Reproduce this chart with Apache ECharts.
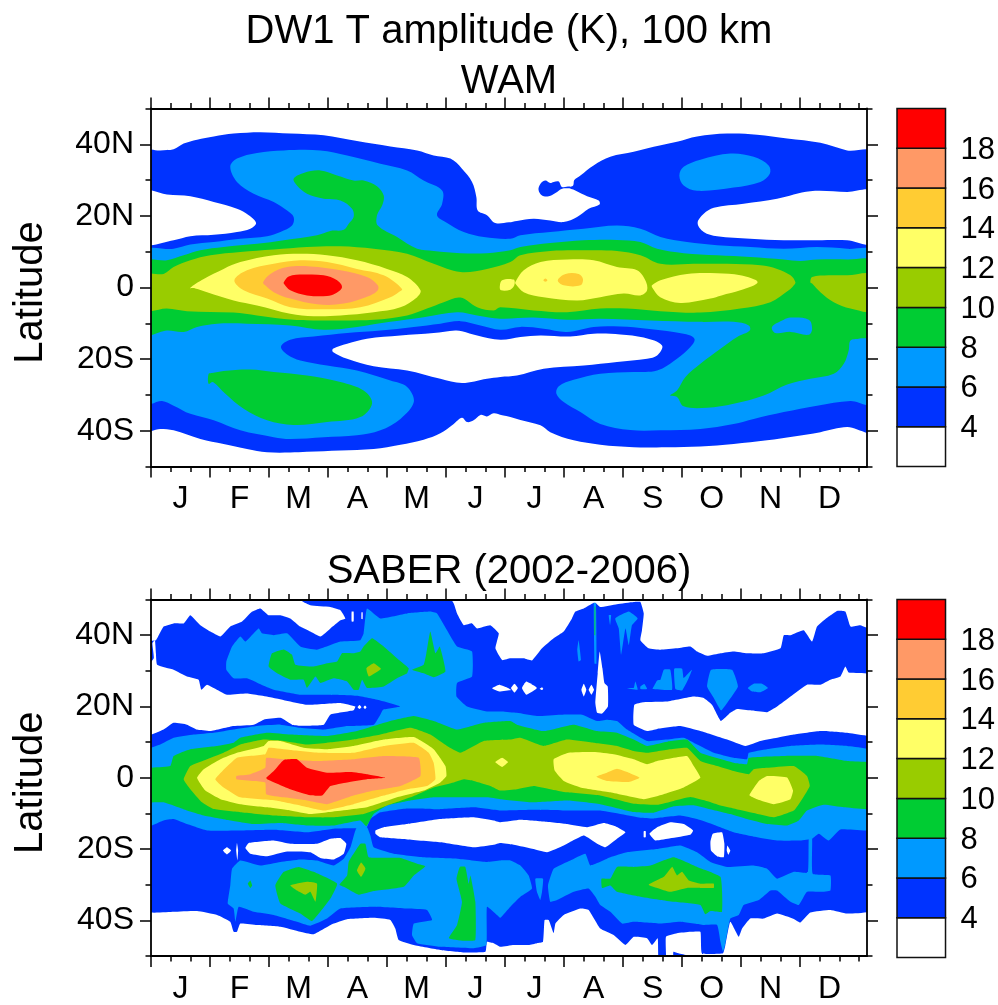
<!DOCTYPE html>
<html><head><meta charset="utf-8">
<style>html,body{margin:0;background:#fff}#c{width:998px;height:1005px}</style>
<script src="https://cdn.jsdelivr.net/npm/echarts@6/dist/echarts.min.js"></script></head>
<body><div id="c"></div>
<script>
const monthLabels=['J','F','M','A','M','J','J','A','S','O','N','D'];
const monthCentres=[15,45,75,105,135,165,195,225,255,285,315,345];
const dayMajor=[0,30,60,90,120,150,180,210,240,270,300,330];
const dayMinor=[10,20,40,50,70,80,100,110,130,140,160,170,190,200,220,230,250,260,280,290,310,320,340,350,360];
const latMajor=[-40,-20,0,20,40];
const latLabels=['40S','20S','0','20N','40N'];
const latMinor=[-50,-30,-10,10,30,50];
const bandLow=[2,4,6,8,10,12,14,16,18];
const bandColor=['#ffffff','#0033ff','#0099ff','#00cc33','#99cc00','#ffff66','#ffcc33','#ff9966','#ff0000'];
const barLabels=[4,6,8,10,12,14,16,18];

// WAM contours: [day of year, latitude]
const wamBlue=[[[-3,37.9],[4.7,38.3],[11.5,38.6],[16.6,40.2],[23.4,41.3],[31.9,42.2],[42,43],[55.6,43.4],[70.8,43],[87.8,42.5],[104.7,40.9],[121.7,39.4],[135.3,38.3],[143.7,36.9],[152.2,36],[158.1,33.2],[163.2,29.5],[165.4,25.3],[166.1,21.5],[170.8,20.2],[175,18],[182,18.2],[186,18.6],[194.5,19.2],[203,18.7],[209.8,18.3],[216.6,19.7],[222.5,22],[228,23.2],[227.6,24.3],[221.7,25.5],[215.7,27.1],[212.3,27.9],[214.6,28.5],[215.2,30],[218.3,31.3],[225,34.1],[233.5,36.5],[245.4,37.9],[255.6,39.3],[267.4,40.7],[277.6,42.2],[292.9,43],[308.1,42.7],[323.4,41.6],[340.3,40.4],[353.9,38.3],[367,37.4],[367,-39.9],[353.9,-39],[340.3,-40.4],[326.8,-41.6],[313.2,-42.7],[296.2,-43.7],[279.3,-44.4],[262.3,-44.6],[245.4,-44.6],[228.4,-43.9],[214.9,-42.7],[203,-40.4],[198,-38.5],[187.8,-37],[182.7,-36.2],[178.5,-35.7],[174.2,-35.1],[170.8,-36],[167.5,-35.6],[164,-37.1],[160.7,-37.6],[158.1,-36.4],[153.9,-38.1],[147.1,-40.7],[138.6,-42.5],[126.8,-43.9],[113.2,-45.1],[96.3,-45.5],[79.3,-45.9],[70.8,-46.1],[59,-46],[48.8,-45.1],[36.9,-43.7],[25.1,-42.3],[11.5,-39.9],[4.7,-39.5],[-3,-39.8]],
[[208.9,28.1],[207.3,29.6],[204.7,29.5],[203,29.2],[200.5,29.9],[198,29],[197,27.3],[198.8,25.7],[202.2,25.5],[205.6,26.4],[209,27.6],[213,27.8],[213,28.2]]];
const wamWhite=[[[-3,26.7],[8.1,26],[20,25.5],[31.9,23.9],[43.7,22],[49.7,20.2],[53.4,18],[50.5,16.4],[43.7,15.5],[31.9,14.7],[20,14.3],[11.5,13.2],[-3,12.5]],
[[367,26.7],[353.9,26.7],[335.2,26.9],[318.3,24.8],[301.3,23.4],[286.1,22.3],[281,20.6],[277.9,18],[281,15.5],[287.8,14.3],[304.7,13.6],[321.7,13.2],[338.6,13.2],[353.9,13.2],[367,12.4]],
[[92.5,-17.1],[99.7,-15.7],[109.8,-14.3],[126.8,-13.4],[143.7,-12.7],[154.7,-12],[158.1,-12.2],[165.8,-13.4],[177.6,-14.6],[187.8,-13.8],[198,-13.4],[213.2,-13.7],[225,-12.9],[238.6,-13.1],[250.5,-14],[259.8,-16.2],[257.3,-19],[252.2,-19.9],[236.9,-20.8],[220,-21.8],[199.6,-22.7],[186,-24.6],[177.6,-25],[170.8,-25.5],[158.1,-26.7],[147.1,-25.5],[130.2,-23.2],[113.2,-22],[99.7,-19.9],[92.5,-18]]];
const wamLight=[[[-3,9.9],[11.5,10.8],[20,12],[31.9,12.7],[45.4,13.6],[59,14.3],[65.8,15.5],[71.7,17.3],[72.5,19.7],[69.2,21.5],[62.4,23.9],[52.2,26.2],[43.7,29.5],[40.3,33.7],[43.7,36],[53.9,37.6],[67.5,38.3],[86.1,38.3],[99.7,36.9],[116.6,34.6],[130.2,32.7],[138.6,29.9],[148,27.1],[148,23.4],[145.4,20.2],[149.7,18.3],[159,15.5],[169.2,14.1],[182.7,13.6],[187.8,14.6],[203,15.5],[220,16.4],[236.9,17.3],[248.8,16.4],[259,14.1],[272.5,12.7],[287.8,11.8],[304.7,11.3],[321.7,10.8],[338.6,11.3],[353.9,10.8],[367,9.9],[367,-32.3],[355.6,-31.7],[338.6,-33],[321.7,-34.8],[306.4,-36.7],[296.2,-38.1],[279.3,-39.5],[258.9,-39.9],[243.7,-39.8],[228.4,-38.1],[218.3,-34.8],[209.8,-32],[206.1,-29.7],[207.3,-27.6],[214.9,-25.8],[228.4,-24.1],[245.4,-23.6],[257.3,-23.2],[267.4,-19.9],[274.2,-16.6],[276.4,-14.6],[274.2,-13.4],[265.7,-12.4],[252.2,-11.5],[238.6,-10.9],[225,-11],[211.5,-12.4],[199.6,-11.5],[187.8,-11],[177.6,-11.8],[167.5,-10.6],[157.3,-9.4],[147.1,-10.1],[133.6,-11],[116.6,-12],[99.7,-12.7],[82.7,-13.7],[70.8,-14.6],[66.1,-16.5],[69.2,-18.7],[75.9,-20.4],[89.5,-21.8],[104.7,-23.2],[121.7,-26],[130.2,-27.8],[133.6,-32],[126.8,-36.7],[116.6,-39.9],[104.7,-41.3],[87.8,-41.8],[70.8,-42.3],[62.4,-41.8],[45.4,-39.9],[31.9,-37.1],[20,-35.3],[11.5,-33],[5.6,-31.7],[-3,-32.3]],
[[268.6,31.3],[270.8,33.7],[279.3,35.7],[294.5,37.4],[306.4,36.5],[314,34.1],[314.6,31.8],[309.8,29.5],[296.2,27.9],[277.6,27],[270.8,28.5]]];
const wamGreen=[[[-3,7.1],[8.1,7.6],[16.6,9],[25.1,10.4],[36.9,11.3],[53.9,12.2],[67.5,13.2],[84.4,14.6],[91.2,15.8],[98,16.1],[100.5,17.8],[103,19.7],[102.2,22],[96.3,24.3],[87.8,24.8],[79.3,26.2],[74.2,28.5],[72.5,30.4],[77.6,32],[86.1,32.7],[94.6,31.3],[103,29.9],[108.1,29.9],[114.9,28.3],[118.3,25.7],[117.5,22.9],[114.9,20.2],[115.3,17.3],[125.1,14.1],[135.3,10.8],[143.7,10.2],[157.3,9.6],[170.8,9.6],[182.7,10.4],[187.8,11.3],[203,12.4],[220,13.2],[236.9,13.3],[248.8,12.7],[257.3,10.8],[270.8,9.6],[287.8,9],[304.7,8.5],[321.7,7.8],[330.1,7.4],[338.6,7.8],[353.9,7.8],[367,7.1],[367,-13.4],[359.8,-14.3],[355.6,-14.8],[354.7,-17.6],[352.2,-21.3],[347.1,-24.1],[335.2,-25.5],[323.4,-27.1],[311.5,-30.2],[296.2,-32.5],[282.7,-33.6],[270.8,-33.2],[267.4,-30.6],[264,-30.2],[267.4,-28.8],[271.7,-25],[279.3,-21.3],[289.5,-17.1],[298,-13.8],[304.4,-12],[303.9,-10.6],[296.2,-9.6],[279.3,-9.6],[253.9,-9.2],[228.4,-8.7],[211.5,-9],[194.5,-8.4],[177.6,-8.7],[165.8,-7.8],[155.6,-6.9],[138.6,-8.3],[121.7,-9.6],[104.7,-11],[87.8,-11.8],[70.8,-10.6],[48.8,-10.1],[33.6,-10.1],[23.4,-11],[16.6,-12.4],[8.1,-12],[-3,-12.9]],
[[29.3,-24.1],[31,-23.9],[36.9,-23.3],[50.5,-22.9],[62.4,-23.6],[79.3,-24.6],[96.3,-26.4],[108.1,-28.8],[112.4,-32.3],[106.4,-36.2],[89.5,-37.6],[72.5,-38.4],[59,-37.1],[47.1,-33.9],[37.8,-29.7],[31.5,-26.4],[29.3,-26.9]]];
const wamLightOverGreen=[[[315.7,-11],[321.7,-9],[325.1,-8.4],[334.4,-9],[336.1,-11.5],[334.4,-13.2],[325.1,-12.4],[317.4,-12.7]]];
const wamOlive=[[[-3,3.4],[6.4,3.8],[11.5,5.7],[20,7.6],[30.2,9],[45.4,9.9],[62.4,10.6],[79.3,11.3],[96.3,11.5],[113.2,10.8],[130.2,9.4],[143.7,6.6],[157.3,4.3],[170.8,5.2],[182.7,7.1],[187.8,9],[203,10.2],[220,10.4],[236.9,10.2],[248.8,9],[259,6.6],[275.9,6.6],[292.9,6.6],[309.8,6.2],[318.3,5.2],[325.1,3.4],[327.6,1.5],[326.8,0.6],[324.2,-0.8],[314.9,-4.1],[299.6,-5.9],[279.3,-7],[258.9,-6.6],[242,-5.9],[228.4,-5.9],[211.5,-6.9],[194.5,-6.4],[177.6,-5.5],[174.2,-6.4],[165.8,-5.5],[157.3,-2.8],[148.8,-4.1],[140.3,-5.9],[130.2,-7.8],[113.2,-9],[89.5,-9.2],[72.5,-9],[53.9,-7.8],[42,-7],[18.3,-6.6],[8.1,-5.9],[-3,-6.2]],
[[335.2,1.5],[336.1,2.9],[344.5,3.4],[353.9,3.4],[367,3.4],[367,-6.4],[355.6,-5.9],[347.1,-4.1],[340.3,-1.3],[336.1,1.1]]];
const wamYellow=[[[20,-0.1],[26.8,2.4],[36.9,5.2],[45.4,7.1],[62.4,9],[75.9,9.4],[89.5,9],[104.7,7.6],[120,5.2],[130.2,2.9],[137,-0.8],[135.3,-2.7],[126.8,-5.5],[113.2,-6.9],[96.3,-7.8],[82.7,-8],[70.8,-7.3],[53.9,-5],[42,-3.6],[28.5,-1.3],[22.5,-0.3]],
[[177.3,0],[178.5,2],[184.4,2.2],[184.7,0.6],[182.7,-0.6],[178,-0.8]],
[[185.2,1.5],[189.5,4.8],[198,7.1],[211.5,7.8],[225,7.6],[236.9,5.7],[247.1,4.8],[251.3,2],[252.2,-0.8],[248.8,-2.2],[240.3,-1.7],[228.4,-2.7],[216.6,-3.6],[199.6,-2.7],[189.5,-1.3],[185.2,1.1]],
[[254.7,0.6],[259,2],[272.5,3.8],[287.8,4],[299.6,3.4],[308.4,1.5],[299.6,-0.8],[290,-2.2],[284.4,-3.1],[269.1,-4.3],[258.9,-2.7],[254.7,0.1]]];
const wamOrange=[[[42.4,2],[48.8,4.8],[62.4,6.6],[75.9,7.6],[89.5,7.1],[104.7,5.2],[118.3,3.4],[127.6,-0.4],[125.9,-1.3],[121.7,-2.7],[106.4,-5.5],[87.8,-6.1],[70.8,-5.5],[59,-3.1],[47.1,-0.8]],
[[206.8,2],[210.7,3.8],[217.4,3.8],[219.6,2.4],[218.3,0.6],[209.8,0.6]],
[[199.5,2],[200.5,2.5],[201.5,2],[200.5,1.6]]];
const wamSalmon=[[[57,1.5],[60.7,3.8],[69.2,5.7],[81,5.9],[96.3,4.8],[109.8,2.9],[115.3,0.6],[115.3,-0.8],[111.5,-2.2],[98,-4.5],[84.4,-4.7],[70.8,-3.1],[62.4,-1.3],[58.1,0.6]]];
const wamRed=[[[67.5,1.5],[70,3.1],[77.6,3.6],[87.8,3.4],[94.6,2],[97.1,0.1],[93.7,-1.7],[89.5,-2.4],[79.3,-2.2],[70.8,-0.8],[67.5,1.1]]];

// SABER contours: [day of year, latitude]
const saberBlue=[[[-3,38.2],[2.5,38.6],[6.4,42.4],[11.5,43.3],[16.6,43.3],[20,45.6],[25.1,42.8],[30.2,41],[35.3,39.6],[40.3,42.4],[46.3,43.8],[51.4,46.6],[55.6,47.5],[59.8,45.6],[65.8,45.6],[70.8,44.7],[75.9,42.4],[81,41],[86.1,39.6],[91.2,41.9],[96.3,44.2],[98.8,44.7],[96.3,47],[91.2,47.9],[81,48.4],[76.8,49.6],[75.9,52],[149.7,52],[153.9,48.9],[155.6,46.1],[159,42.8],[163.2,43.3],[165.8,41.9],[172.5,42.8],[176.8,40.5],[175.1,36.3],[178.5,33],[182.7,33.5],[189.5,33.5],[193.7,32.9],[198.8,36.3],[204.7,39.1],[209.8,41],[214,44.7],[215.7,46.6],[220,47.5],[225.1,49.1],[225.9,49.1],[228.4,47.9],[236.9,48.7],[245.4,49.3],[248.8,49.3],[250.5,46.1],[249.6,41.4],[248.8,38.6],[253,36.3],[259,35.9],[267.4,36.3],[274.2,36.8],[277.6,35.4],[282.7,34.2],[289.5,34.9],[296.2,35.4],[303,34.9],[311.5,34.9],[320,36.3],[321.7,40],[325.1,40],[331.8,41.4],[336.1,38.2],[338.6,42.4],[344.5,45.2],[348.8,46.8],[353,46.6],[355.6,42.4],[360.6,42.8],[367,41],[367,-37.1],[353.9,-38.1],[345.4,-37.1],[335.2,-37.8],[330.1,-40.6],[326.8,-39.6],[318.3,-38.1],[311.5,-39.5],[304.7,-39.5],[300.5,-42.3],[298.8,-44.6],[294.5,-40.4],[292,-46.9],[290.8,-49.2],[280.1,-49.2],[279.3,-43.2],[274.2,-43.2],[267.4,-43.6],[261.8,-44.6],[261.8,-52],[258.1,-52],[257.6,-45],[254.7,-46.9],[252.2,-45],[245.4,-44.6],[241.2,-46.9],[235.2,-44.1],[228.4,-42.3],[222.5,-37.1],[218.3,-36.7],[209.8,-38.5],[205.6,-40.9],[204.7,-43.6],[202.2,-39.9],[200.1,-39.9],[199.3,-46],[196.2,-46.4],[192,-46.9],[184.4,-46.9],[177.6,-47.4],[174.2,-46.4],[170.8,-46],[170,-48.8],[159,-49],[147.1,-48.3],[133.6,-46.9],[125.9,-45.5],[124.2,-42.3],[121.7,-39.9],[113.2,-39.3],[99.7,-39.7],[92,-41.1],[82.7,-43.9],[75.9,-43.2],[65.8,-41.8],[53.9,-41.3],[45.4,-40.9],[43.7,-43.2],[42,-43.2],[40.3,-40.4],[33.6,-38.5],[23.4,-37.4],[11.5,-37.6],[-3,-37.4]],
[[265.6,-48.8],[268.1,-49.2],[272.5,-49.8],[265.6,-50]]];
const saberWhite=[[[-3,30.3],[1.4,33.5],[0.7,37.7],[2,38.6],[2.5,34.9],[3.1,31.7],[11.5,30.3],[18.3,28.4],[24.2,27.5],[25.6,24.7],[28.5,26.1],[38.6,23.3],[48.8,23.6],[62.4,22.4],[79.3,20.5],[96.3,21],[103.9,20],[103,18.9],[91.2,17.7],[87.8,14.9],[75.9,14.6],[71.7,14.9],[65.8,16.8],[57.3,16.3],[52.2,14.9],[42,14.5],[30.2,13.1],[23.4,13.5],[18.3,14.9],[11.5,15.4],[6.4,13.5],[-3,11.7]],
[[105,19.8],[106,20.4],[107,19.8],[106,19.3]],[[108,19.8],[108.8,20.3],[109.6,19.8],[108.8,19.3]],
[[102,46.6],[103,46.6],[103,43.8],[102,43.8]],[[107,46.4],[107.6,46.4],[107.6,44.5],[107,44.5]],
[[173.4,25.1],[177,26.1],[181,25.3],[183,24.6],[177,24.2]],[[183,25.2],[184.8,26.4],[186.5,25.2],[184.8,23.9]],
[[188.6,25.2],[190.8,27],[196.2,25.2],[190.8,23.3]],[[197.6,25],[198.8,25.4],[199.4,25],[198.8,24.6]],
[[218.8,24.7],[220,26.4],[221.3,24.7],[220,22.8]],[[222.5,24.7],[223.9,26.1],[225.2,24.7],[223.9,23.3]],
[[228.1,35.4],[229.5,30.7],[230.5,26.6],[232.2,25.6],[232.3,20],[229.3,18],[226.8,18.2],[225.9,21],[227.1,29.3]],
[[245.7,20.5],[250.5,21.2],[262.3,21.4],[275.9,22.8],[281,22.4],[285.2,20.5],[287.8,17.7],[289.8,15.9],[294.5,18.2],[297.9,19.3],[304.7,18.9],[313.2,18.4],[318.3,20],[325.1,22.8],[333.5,26.1],[340.3,26.1],[345.4,27.5],[350.5,28.4],[353,31.2],[354.7,29.5],[367,28.9],[367,11.9],[353.9,12.6],[340.3,13.1],[326.8,12.1],[318.3,11.2],[309.8,10.3],[302.2,8.9],[292.9,10.7],[279.3,13.1],[269.1,14.5],[257.3,13.7],[252.2,13.1],[245.4,14.9]],
[[48,-19.7],[49.7,-18.3],[62.4,-17.6],[70.8,-18.5],[84.4,-18.5],[91.2,-17.1],[96.3,-16.9],[99.3,-18.5],[98,-21.3],[92.9,-22.9],[86.1,-22.5],[81,-20.9],[69.2,-20.7],[59,-22],[50.5,-21.3]],
[[36.6,-20.4],[38.6,-19.5],[40.7,-20.4],[38.6,-21.5]],[[43.7,-18.3],[44.3,-20.4],[43.9,-23.2],[43.3,-20.4]],
[[114.1,-14.8],[118.3,-13.9],[130.2,-13],[147.1,-11.6],[164.1,-11.1],[174.2,-12],[177.6,-12.5],[187.8,-11.8],[199.6,-12.3],[211.5,-13],[221.7,-13.9],[230.1,-12.7],[236.1,-13.6],[241.2,-15.3],[236.9,-17.1],[231,-19.5],[226.8,-18.5],[220,-16.2],[209.8,-19],[201.3,-20.9],[194.5,-20],[184.4,-18.8],[177.6,-18.3],[174.2,-18.8],[164.1,-19.5],[147.1,-18.1],[130.2,-17.3],[116.6,-16.7],[114.1,-15.7]],
[[250.5,-15],[251.5,-15],[251.5,-16.7],[250.5,-16.7]],
[[253.4,-15.7],[257.3,-13.9],[264,-12.5],[270.8,-13],[275.6,-14.8],[274.2,-16],[264,-17],[256.4,-17.6]],
[[284.4,-18],[285.6,-15.7],[290.3,-15.3],[291.5,-18.5],[291.2,-22.3],[287.8,-22],[284.7,-20.4]],
[[293,-19],[294.5,-20.4],[293.5,-21.6],[292.7,-20.4]]];
const saberLight=[[[-3,7.5],[4.7,9.3],[11.5,11.2],[21.7,12.1],[31.9,12.6],[42,13.5],[53.9,14.5],[65.8,14.9],[75.9,14],[87.8,13.5],[99.7,14.5],[113.2,14.9],[116.6,17.7],[118,19.1],[126.8,20],[116.6,21.7],[104.7,23],[89.5,23.3],[75.9,23.3],[62.4,24.7],[57.3,25.8],[48.8,27.9],[42,27.9],[38.3,30.3],[38.3,32.6],[41.2,36.8],[45.4,39.6],[48,38.2],[54.7,41.9],[56.4,40.5],[62.4,40],[69.2,40.5],[75.9,36.8],[84.4,35.9],[96.3,38.2],[106.4,38.6],[108.1,40.5],[109.8,47.5],[116.6,44.7],[130.2,46.1],[142,46.6],[145.4,46.1],[150.5,41.4],[155.6,36.8],[163.2,35.4],[163.2,28.4],[155.6,26.6],[155.3,22.8],[160.7,20],[170.8,18.6],[178.5,18.6],[186,18.2],[196.2,17.3],[208.1,17.7],[219.1,17.7],[226.8,15.9],[231.8,16.3],[236.9,15.9],[242,13.5],[252.2,10.3],[262.3,10.7],[270.8,11.2],[277.6,9.3],[286.1,7],[296.2,5.6],[303,5.2],[303.9,7],[313.2,8],[325.1,8.9],[340.3,9.3],[353.9,8.9],[367,7.5],[367,-14.5],[350.5,-14.5],[344.5,-17.6],[339.5,-15.7],[336.1,-17.1],[330.1,-17.6],[318.3,-17.6],[308.1,-16.7],[296.2,-15.3],[286.1,-13.2],[277.6,-11.6],[269.1,-10.6],[255.6,-11.4],[248.8,-11.2],[228.4,-9.2],[211.5,-9.2],[194.5,-9],[177.6,-9.2],[164.1,-8.3],[147.1,-8.8],[130.2,-8.6],[116.6,-9.7],[111.5,-11.6],[109.5,-14.2],[104.7,-14.2],[100.5,-14.2],[92.9,-14.3],[79.3,-15.3],[62.4,-14.6],[45.4,-14.8],[28.5,-14.8],[18.3,-13],[11.5,-11.6],[6.4,-12],[-3,-13.9]],
[[104.7,-13.9],[109.8,-13.9],[111.5,-16.2],[113.2,-19.5],[123.4,-21.3],[138.6,-22.3],[155.6,-22.7],[170.8,-23.6],[177.6,-23.2],[182.7,-23.2],[187.8,-24.6],[192,-27.4],[193.7,-31.1],[187.8,-33.4],[182.7,-36.2],[177.6,-39.3],[175.9,-38.5],[170.8,-36.2],[170.5,-46.9],[164.1,-47.8],[147.1,-47.4],[135.3,-46.4],[132.7,-44.1],[133.6,-40.9],[142.9,-39.9],[140.3,-37.1],[130.2,-36.7],[113.2,-36.2],[96.3,-36.7],[89.5,-39.5],[81,-41.5],[74.2,-40.4],[62.4,-38.5],[52.2,-37.6],[44.6,-36.2],[42.9,-40.4],[42,-36.7],[39,-35.3],[40.3,-30.2],[41.2,-25.5],[45.4,-23.2],[55.6,-24.6],[65.8,-23.6],[75.9,-22.9],[84.4,-23.2],[92.9,-24.6],[98,-22.7],[101.4,-19.5],[103.6,-15.3]],
[[195.4,-28.3],[199.3,-28.3],[198.8,-32],[197.9,-34.3],[196.2,-32]],
[[201.8,-30.2],[204.7,-25.5],[213.2,-23.2],[220.8,-21.3],[223.4,-24.6],[233.5,-22.3],[242,-20.9],[257.3,-20],[269.1,-19],[277.6,-20.9],[284.4,-23.6],[292.9,-25],[306.4,-24.6],[313.2,-25.5],[318.3,-28.3],[326.8,-26.4],[333.9,-26.6],[334.4,-17.1],[336.1,-17.1],[336.4,-26.9],[345.4,-27.4],[345.4,-31.6],[340.3,-32],[333.5,-32],[329.3,-35.7],[325.1,-34.8],[318.3,-31.6],[314.9,-31.6],[309,-34.3],[301.3,-35.7],[298.8,-38.5],[294.5,-39.5],[292,-46.4],[290.8,-48.8],[289.5,-46],[287.8,-41.3],[281,-41.3],[269.1,-40.4],[258.9,-40.9],[245.4,-40.4],[239.5,-40.9],[233.5,-37.6],[228.4,-35.7],[225.9,-33.4],[222.5,-31.1],[214.9,-32],[206.4,-34.3],[203,-34.8]],
[[236,44.7],[242.9,46.6],[247.4,44.7],[244.5,42.8],[242.9,37.2],[241.2,41.9],[239,34.5],[237.8,41.9]],
[[232.7,45.6],[233.9,45.6],[233.4,42.8]],[[217.4,38.6],[218.6,33],[217.4,32.6],[216.7,35.9]],
[[225.1,49],[226.2,49],[226.5,32],[225.5,32]],
[[241.7,25.2],[245.4,25.2],[246.2,27],[247.4,24.7]],[[248.8,25.6],[250.8,26.3],[252.2,24.9],[248.8,24.9]],
[[255,25],[257.3,27.3],[259,27.5],[260.7,30.3],[264,30.3],[264.9,24.7],[255,24.9]],
[[266,30.6],[270,30.6],[270.8,28],[275,30.3],[273.4,28],[270,24.5],[266.6,24.9]],
[[282.7,25.6],[284.7,30.3],[295.4,30.3],[298.4,25.6],[292.9,21],[289.8,18.9],[286.1,22.4]],
[[303.4,25.2],[306.4,26.4],[310.6,26.4],[313.7,25.2],[309.8,24],[305.6,24.2]]];
const saberGreen=[[[-3,2.4],[9.8,3.3],[11.5,6.1],[20,8],[33.6,8.9],[42,9.8],[45.4,11.2],[59,12.6],[70.8,12.1],[89.5,11.7],[104.7,13.1],[121.7,15.9],[133.6,17.3],[143.7,15.9],[155.6,13.5],[169.2,15.4],[182.7,15.9],[186,14.9],[199.6,13.1],[214.9,14.9],[226.8,13.1],[236.9,12.6],[245.4,10.7],[252.2,8.9],[264,10.3],[272.5,10.7],[279.3,7],[296.2,4.2],[303,3.8],[303.9,5.6],[321.7,6.1],[338.6,6.1],[353.9,4.7],[367,4],[367,-8.6],[352.2,-8.3],[342,-7.6],[333.5,-9.2],[329.3,-12],[323.4,-13.4],[313.2,-13],[303,-11.6],[294.5,-10.2],[282.7,-8.6],[275.9,-7.7],[265.7,-8],[255.6,-9.8],[245.4,-9.6],[228.4,-7.4],[211.5,-6.4],[194.5,-6.9],[177.6,-6],[170.8,-5.5],[164.1,-5.5],[155.6,-5.5],[143.7,-5.5],[131.9,-6.4],[120,-7.8],[113.2,-10.2],[109.5,-13.6],[106.4,-12],[92.9,-13.4],[79.3,-13.4],[65.8,-12.7],[52.2,-13],[40.3,-12],[26.8,-10.6],[18.3,-9.2],[6.4,-6.9],[-3,-6.7]],
[[63.2,-30.2],[67.5,-26.4],[75.1,-25],[82.7,-26.4],[94.6,-29.7],[91.2,-33.9],[81.9,-40.2],[75.9,-38.1],[65.8,-35.3]],
[[95.8,-30],[99.7,-27.4],[100.5,-23.6],[106.4,-18.5],[109,-18.5],[110.7,-22.3],[126.8,-22.5],[135.3,-24.1],[139.5,-24.8],[133.6,-27.4],[128.5,-30.6],[113.2,-31.8],[105.6,-32.8],[98,-30.6]],
[[151.4,-45],[155.6,-41.3],[158.1,-34.8],[155.3,-28.3],[157,-25],[159.8,-25],[161.5,-29.7],[162.4,-27.4],[164.9,-34.8],[164.9,-45.5],[159,-45.7]],
[[49.2,-29.7],[50.5,-28.8],[51.4,-30.2],[50.5,-30.9]],
[[59.8,31.2],[61.5,34.9],[67.5,36],[71.7,34.5],[73.4,31.7],[82.7,31.2],[89.5,32.1],[94.6,32.6],[97.1,34.9],[103,34.9],[106.4,35.4],[108.1,36.8],[112.4,39.1],[118.3,36.8],[125.9,33.1],[131,30.7],[130.2,29.3],[125.1,27.9],[118.3,25.6],[109.8,25.2],[107.3,27.5],[105.6,24.7],[103,24.7],[99.7,27],[92.9,27.9],[86.1,26.6],[83.6,28.4],[79.3,25.2],[77.6,27.5],[70.8,27.5],[64.1,29.3]],
[[132.7,30.3],[138.6,31.7],[140,34.9],[142,41],[144.6,34.9],[146.8,36.8],[149.7,29.8],[143.7,28.2],[138.6,29.3]],
[[229,-28.3],[233.5,-28.3],[236.9,-25],[245.4,-25],[253.9,-24.6],[265.7,-22.3],[277.6,-25],[289.5,-27.8],[290.3,-37.6],[284.4,-37.4],[281.8,-38.3],[279.3,-35.7],[265.7,-34.8],[258.9,-34.3],[248.8,-33.4],[236.9,-32],[233.5,-30.2],[229.3,-30.9]],
[[225.5,48],[225.9,48],[225.9,40],[225.5,40]]];
const saberOlive=[[[16.6,-0.4],[20,3.3],[28.5,5.2],[36.9,7],[45.4,9.3],[57.3,10.7],[67.5,10.3],[79.3,9.3],[89.5,9.8],[103,10.7],[116.6,12.1],[131.9,14],[142,12.1],[150.5,8.9],[157.3,7],[169.2,10.3],[182.7,10.7],[187.8,11.2],[199.6,8.9],[211.5,10.7],[225,9.8],[236.9,8.9],[245.4,7.5],[252.2,7],[264,8],[272.5,8.4],[279.3,4.7],[287.8,3.3],[296.2,1.9],[303.9,1],[306.4,2.4],[313.2,2.8],[326.8,3.3],[333.5,0.5],[334.9,-2.3],[331,-6],[326.8,-9.2],[316.6,-11.1],[306.4,-9.9],[296.2,-8.6],[289.5,-7.8],[283,-6.6],[274.2,-5.4],[265.7,-6.5],[257.3,-7.6],[245.4,-7.3],[228.4,-5],[211.5,-4.1],[203,-3.2],[194.5,-2.3],[186,-3.2],[177.6,-3.6],[172.5,-2.3],[164.1,-0.9],[159,-0.4],[153.9,-1.3],[143.7,-2.7],[131.9,-5.5],[120,-7.8],[108.1,-10.2],[92.9,-11.1],[79.3,-11.1],[62.4,-10.6],[45.4,-9.7],[31.9,-8.8],[25.9,-6.9],[20,-3.2]],
[[70.8,-30.2],[79.3,-29.2],[84.4,-29.7],[83.6,-34.8],[81,-32],[78.5,-32.8],[74.2,-31.6]],
[[104.7,-26],[106.8,-23.8],[109,-25.5],[106.8,-27.8]],
[[109.5,30.7],[113.2,32.1],[116.9,30.5],[110.7,28.4]],
[[253,-30],[260.7,-27.8],[264.9,-25],[267.4,-27.4],[270,-26.4],[273.4,-28.8],[279.3,-29.7],[286.1,-29.7],[286.1,-30.9],[279.3,-30.9],[272.5,-30.9],[264,-32],[257.3,-30.9]]];
const saberYellow=[[[23.4,0],[26.8,2.4],[35.3,5.2],[43.7,7],[57.3,8.9],[59.8,10.3],[65.8,10.3],[77.6,8.4],[89.5,8],[103,8.9],[118.3,10.7],[133.6,11.4],[143.7,8],[149.7,3.3],[150.2,0.5],[147.1,-1.3],[138.6,-3.6],[125.1,-5.5],[109.8,-8.3],[89.5,-9.7],[81,-10.2],[70.8,-9.2],[59,-8.3],[45.4,-7.4],[35.3,-6],[27.6,-3.6]],
[[175,4.4],[178.5,5.6],[181.5,4.4],[178.5,3]],
[[204.7,5.2],[212.3,7],[225,7.2],[235.2,6.6],[245.4,5.2],[252.2,3.8],[257.3,4.7],[272.5,6.1],[275.9,3.3],[279.3,0],[270.8,-2.7],[260.6,-4.6],[250.5,-6],[233.5,-4.1],[218.3,-2.7],[209.8,-0.9],[205.2,2]],
[[304.2,-4.9],[309,-0.9],[313.2,0.5],[323.4,0.1],[326.4,-3.6],[325.1,-6],[316.6,-7.4],[308.1,-6]]];
const saberOrange=[[[32.7,-0.4],[43.7,5.6],[58.1,6.6],[59.8,8.4],[70.8,7.8],[86.1,7],[103,7],[118.3,8.9],[133.6,9.8],[141.2,7],[143.7,4.2],[144.6,-0.4],[140.3,-2.3],[130.2,-3.2],[118.3,-5],[103,-7.4],[87.8,-9.2],[75.9,-7.8],[63.2,-6.4],[45.4,-5.5],[36.9,-2.7]],
[[226.4,0.3],[231.8,1.4],[236.9,2.5],[242.9,1.4],[248.4,0],[242.9,-1.2],[231.8,-0.9]]];
const saberSalmon=[[[43.4,0.5],[50.5,1],[58.1,2.8],[58.6,5.6],[67.5,5.2],[84.4,4.7],[103,5.2],[118.3,6.1],[136.1,5.6],[137,0.5],[126.8,-2.3],[113.2,-3.6],[103,-5],[89.5,-7.4],[79.3,-6.4],[67.5,-5.5],[58.6,-4.6],[58.1,-1.3],[52.2,-0.9],[43.4,-0.4]]];
const saberRed=[[[58.6,0],[62.4,1.9],[67.5,5],[74.2,5.2],[79.3,2.8],[89.5,1.4],[101.4,1.6],[109.8,1],[119.2,0],[109.8,-0.4],[99.7,-1.3],[91.2,-2.3],[87,-5],[81,-4.9],[70.8,-3.2],[59,-0.4]]];

const font='"Liberation Sans",Arial,sans-serif';
const ink='#000';
const tickSize=[11,5.5];
const plots=[
 {top:108.5,layers:[[wamBlue,1],[wamWhite,0],[wamLight,2],[wamGreen,3],[wamLightOverGreen,2],[wamOlive,4],[wamYellow,5],[wamOrange,6],[wamSalmon,7],[wamRed,8]],smooth:0.35},
 {top:599.5,layers:[[saberBlue,1],[saberWhite,0],[saberLight,2],[saberGreen,3],[saberOlive,4],[saberYellow,5],[saberOrange,6],[saberSalmon,7],[saberRed,8]],smooth:0.12}
];
const plotH=358, plotL=151, plotW=716;
const grids=[],xAxes=[],yAxes=[],series=[];
function tick(values,len){return {show:true,customValues:values,length:len,inside:false,lineStyle:{color:ink,width:1.5}};}
const frame={show:true,onZero:false,lineStyle:{color:ink,width:1.8}};
const noLine={show:false,onZero:false};
const labelNudge=0.1;
plots.forEach((p,pi)=>{
 const g=grids.length;
 grids.push({left:plotL,top:p.top,width:plotW,height:plotH});
 const xBase={type:'value',gridIndex:g,min:0,max:364,interval:30,splitLine:{show:false},z:10};
 const yBase={type:'value',gridIndex:g,min:-50,max:50,interval:10,splitLine:{show:false},z:10};
 const x0=xAxes.length,y0=yAxes.length;
 xAxes.push({...xBase,position:'bottom',axisLine:frame,axisTick:tick(dayMajor,tickSize[0]),
   axisLabel:{show:true,customValues:monthCentres,margin:17,color:ink,fontFamily:font,fontSize:32,formatter:v=>monthLabels[monthCentres.indexOf(v)]||''}});
 xAxes.push({...xBase,position:'bottom',axisLine:noLine,axisTick:tick(dayMinor,tickSize[1]),axisLabel:{show:false}});
 xAxes.push({...xBase,position:'top',axisLine:frame,axisTick:tick(dayMajor,tickSize[0]),axisLabel:{show:false}});
 xAxes.push({...xBase,position:'top',axisLine:noLine,axisTick:tick(dayMinor,tickSize[1]),axisLabel:{show:false}});
 yAxes.push({...yBase,position:'left',axisLine:frame,axisTick:tick(latMajor,tickSize[0]),
   name:'Latitude',nameLocation:'middle',nameGap:100,nameRotate:90,nameTextStyle:{color:ink,fontFamily:font,fontSize:40,padding:[0,10,0,0]},
   axisLabel:{show:true,customValues:latMajor,margin:17,color:ink,fontFamily:font,fontSize:32,formatter:v=>latLabels[latMajor.indexOf(v)]||''}});
 yAxes.push({...yBase,position:'left',axisLine:noLine,axisTick:tick(latMinor,tickSize[1]),axisLabel:{show:false}});
 yAxes.push({...yBase,position:'right',axisLine:frame,axisTick:tick(latMajor,tickSize[0]),axisLabel:{show:false}});
 yAxes.push({...yBase,position:'right',axisLine:noLine,axisTick:tick(latMinor,tickSize[1]),axisLabel:{show:false}});
 const polys=[];
 p.layers.forEach(([list,band])=>list.forEach(pts=>polys.push({pts,band})));
 series.push({type:'custom',xAxisIndex:x0,yAxisIndex:y0,clip:true,silent:true,animation:false,
   data:polys.map((_,i)=>[i]),
   renderItem:(params,api)=>{const q=polys[params.dataIndex];
     return {type:'polygon',shape:{points:q.pts.map(v=>api.coord(v)),smooth:p.smooth},style:{fill:bandColor[q.band]}};}});
 // colour bar
 const g2=grids.length;
 grids.push({left:897,top:p.top,width:51,height:plotH});
 const xb=xAxes.length,yb=yAxes.length;
 xAxes.push({type:'value',gridIndex:g2,min:0,max:1,show:false});
 yAxes.push({type:'value',gridIndex:g2,min:2,max:20,interval:2,position:'right',splitLine:{show:false},axisLine:{show:false,onZero:false},axisTick:{show:false},
   axisLabel:{show:true,customValues:barLabels.map(v=>v-labelNudge),margin:15,color:ink,fontFamily:font,fontSize:31,formatter:v=>String(Math.round(v+labelNudge))}});
 series.push({type:'custom',xAxisIndex:xb,yAxisIndex:yb,silent:true,animation:false,
   data:bandLow.map((v,i)=>[i,v]),
   renderItem:(params,api)=>{const i=params.dataIndex;const a=api.coord([0,bandLow[i]+2]);const b=api.coord([1,bandLow[i]]);
     return {type:'rect',shape:{x:a[0],y:a[1],width:b[0]-a[0],height:b[1]-a[1]},style:{fill:bandColor[i],stroke:'#111',lineWidth:1.5}};}});
});
const titles=[['DW1 T amplitude (K), 100 km',7],['WAM',57],['SABER (2002-2006)',547]].map(([text,top])=>({text,left:504,top,textAlign:'center',textStyle:{color:ink,fontFamily:font,fontSize:40,fontWeight:'normal'}}));
const chart=echarts.init(document.getElementById('c'),null,{renderer:'canvas'});
chart.setOption({animation:false,backgroundColor:'#fff',title:titles,grid:grids,xAxis:xAxes,yAxis:yAxes,series});
</script></body></html>
